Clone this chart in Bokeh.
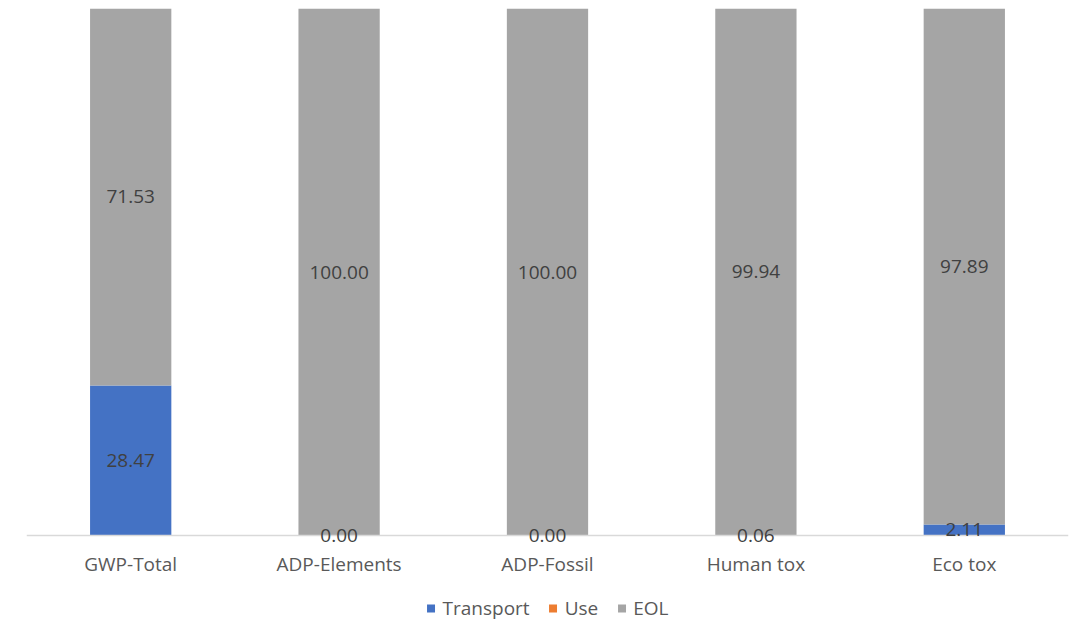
from bokeh.plotting import figure
from bokeh.models import ColumnDataSource, LabelSet, Legend, LegendItem, Range1d, FactorRange, Span
from bokeh.core.properties import value
from bokeh.embed import file_html
from bokeh.resources import INLINE

categories = ["GWP-Total", "ADP-Elements", "ADP-Fossil", "Human tox", "Eco tox"]
transport = [28.47, 0.00, 0.00, 0.06, 2.11]
use = [0.0, 0.0, 0.0, 0.0, 0.0]
eol = [71.53, 100.00, 100.00, 99.94, 97.89]
series = ["Transport", "Use", "EOL"]
colors = ["#4472C4", "#ED7D31", "#A5A5A5"]

FONT = "Open Sans"

src = ColumnDataSource(dict(
    cat=categories, Transport=transport, Use=use, EOL=eol,
    base=[0.0] * len(categories),
    t_y=[t / 2 for t in transport],
    e_y=[t + u + e / 2 for t, u, e in zip(transport, use, eol)],
    t_lab=["%.2f" % v for v in transport],
    e_lab=["%.2f" % v for v in eol],
))

# frame spans from the top margin to the bottom of the canvas; room below zero
# holds the category labels and the legend
p = figure(x_range=FactorRange(*categories, range_padding=0), y_range=Range1d(-16.5, 100),
           width=1076, height=622, output_backend="svg", toolbar_location=None,
           min_border_left=26, min_border_right=8, min_border_top=8, min_border_bottom=0)
p.outline_line_color = None
p.grid.grid_line_color = None
p.xaxis.visible = False
p.yaxis.visible = False

r = p.vbar_stack(series, x="cat", width=0.39, source=src, color=colors, line_color=None)

p.add_layout(Span(location=0, dimension="width", line_color="#D9D9D9", line_width=1.5))

for ycol, tcol in (("t_y", "t_lab"), ("e_y", "e_lab")):
    p.add_layout(LabelSet(x="cat", y=ycol, text=tcol, source=src, text_align="center",
                          text_baseline="middle", text_font=value(FONT),
                          text_font_size="19px", text_color="#404040"))

# category (axis) labels
p.add_layout(LabelSet(x="cat", y="base", text="cat", source=src, text_align="center",
                      text_baseline="middle", y_offset=-28, text_font=value(FONT),
                      text_font_size="19px", text_color="#595959"))

legend = Legend(items=[LegendItem(label=s, renderers=[rr]) for s, rr in zip(series, r)],
                orientation="horizontal", location="bottom_center",
                label_text_font=FONT, label_text_font_size="19px",
                label_text_color="#595959", glyph_width=10, glyph_height=10,
                spacing=18, label_standoff=7, border_line_color=None,
                background_fill_alpha=0, padding=0, margin=1)
p.add_layout(legend, "center")

open("out.html", "w").write(file_html(p, INLINE))
